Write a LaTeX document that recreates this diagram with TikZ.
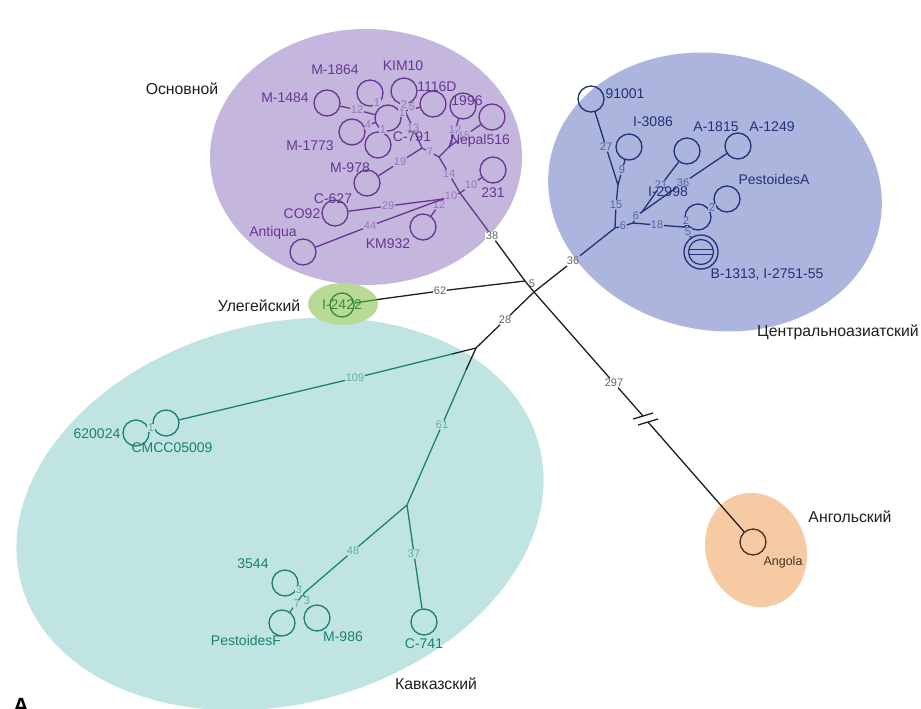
\documentclass[tikz,border=0pt]{standalone}
\usepackage{fontspec}
\setmainfont{Liberation Sans}
\definecolor{pbg}{RGB}{197,182,222}
\definecolor{pfg}{RGB}{104,54,146}
\definecolor{plb}{RGB}{150,120,190}
\definecolor{bbg}{RGB}{172,181,222}
\definecolor{bfg}{RGB}{38,48,118}
\definecolor{blb}{RGB}{85,98,165}
\definecolor{tbg}{RGB}{192,228,226}
\definecolor{tfg}{RGB}{28,128,116}
\definecolor{tlb}{RGB}{95,175,165}
\definecolor{gbg}{RGB}{184,218,150}
\definecolor{gfg}{RGB}{58,140,50}
\definecolor{obg}{RGB}{246,203,164}
\definecolor{ofg}{RGB}{70,50,35}
\definecolor{kfg}{RGB}{30,30,30}
\definecolor{klb}{RGB}{100,100,100}
\begin{document}
\begin{tikzpicture}[x=1pt,y=-1pt,
  lw/.style={line width=1.3pt},
  circ/.style={circle,draw,line width=1.3pt,minimum size=26pt,inner sep=0pt},
  nm/.style={font=\fontsize{14}{15}\selectfont,inner sep=0pt},
  el/.style={font=\fontsize{11}{12}\selectfont,inner sep=0.6pt},
  grp/.style={font=\fontsize{15.8}{17}\selectfont,inner sep=0pt,text=kfg},
  pline/.style={lw,draw=pfg}, pcirc/.style={circ,draw=pfg}, pname/.style={nm,text=pfg}, plab/.style={el,text=plb,fill=pbg},
  bline/.style={lw,draw=bfg}, bcirc/.style={circ,draw=bfg}, bname/.style={nm,text=bfg}, blab/.style={el,text=blb,fill=bbg},
  tline/.style={lw,draw=tfg}, tcirc/.style={circ,draw=tfg}, tname/.style={nm,text=tfg}, tlab/.style={el,text=tlb,fill=tbg},
  kline/.style={lw,draw=kfg}, klab/.style={el,text=klb,fill=white},
  gline/.style={lw,draw=gfg}
]
\fill[white] (0,0) rectangle (921,709);
\useasboundingbox (0,0) rectangle (921,709);

% background regions
\fill[pbg] (366,157) ellipse [x radius=156pt, y radius=128pt];
\fill[bbg, rotate around={-12:(715,192)}] (715,192) ellipse [x radius=168pt, y radius=138pt];
\fill[tbg, rotate around={15:(280,514)}] (280,514) ellipse [x radius=268pt, y radius=190pt];
\fill[gbg] (343,304) ellipse [x radius=35pt, y radius=21pt];
\fill[obg, rotate around={20:(756,550)}] (756,550) ellipse [x radius=50pt, y radius=58pt];

% junctions
\coordinate (J1) at (525,281);
\coordinate (J2) at (534,292);
\coordinate (pa) at (405,111);
\coordinate (pj) at (422,148);
\coordinate (pn2) at (439,157);
\coordinate (pn3) at (449,147);
\coordinate (pn4) at (460,193);
\coordinate (pn5) at (443,199);
\coordinate (bb0) at (615,228);
\coordinate (bb1) at (633,223);
\coordinate (bb2) at (618,185);
\coordinate (bb3) at (642,212);
\coordinate (bb4) at (684,227);
\coordinate (T0) at (476,348);
\coordinate (T1) at (407,505);
\coordinate (T2) at (303,594);
\coordinate (bk1) at (643,416);
\coordinate (bk2) at (648,422);
\coordinate (tx1) at (452,354);
\coordinate (tx2) at (466,370);
\coordinate (g36a) at (567,266);
\coordinate (g36b) at (580,255.7);

% purple circles
\node[pcirc] (m1484) at (327,103) {};
\node[pcirc] (m1864) at (370,93) {};
\node[pcirc] (kim10) at (404,91) {};
\node[pcirc] (c1116) at (433,104) {};
\node[pcirc] (c1996) at (463,106) {};
\node[pcirc] (nepal) at (492,117) {};
\node[pcirc] (pcen) at (388,118) {};
\node[pcirc] (m1773) at (352,132) {};
\node[pcirc] (plow) at (378,145) {};
\node[pcirc] (m978) at (367,183) {};
\node[pcirc] (c231) at (493,170) {};
\node[pcirc] (co92) at (335,213) {};
\node[pcirc] (km932) at (423,227) {};
\node[pcirc] (antiq) at (303,252) {};

% blue circles
\node[bcirc] (b91001) at (591,99) {};
\node[bcirc] (b3086) at (629,147) {};
\node[bcirc] (b1815) at (687,151) {};
\node[bcirc] (b1249) at (738,146) {};
\node[bcirc] (bpesta) at (727,199) {};
\node[bcirc] (blow) at (698,217) {};
\node[bcirc,minimum size=34pt] (btheta) at (701,252) {};
\draw[bfg,line width=1.2pt] (btheta.center) circle (12.5pt);
\draw[bfg,line width=1.2pt] (689,249.5) -- (713,249.5) (689,254.5) -- (713,254.5);

% teal circles
\node[tcirc] (cmcc) at (166,423) {};
\node[tcirc] (c620) at (136,433) {};
\node[tcirc] (c3544) at (285,583) {};
\node[tcirc] (m986) at (317,618) {};
\node[tcirc] (pestf) at (282,623) {};
\node[tcirc] (c741) at (424,622) {};

% others
\node[circ,draw=gfg,minimum size=24pt] (i2422) at (342,305) {};
\node[circ,draw=ofg] (angola) at (753,542) {};

% edge labels
\node[plab] (e1) at (357,110) {12};
\node[plab] (e2) at (377,103) {1};
\node[plab] (e3) at (368,125) {4};
\node[plab] (e4) at (383,130) {1};
\node[plab] (e5) at (402,113) {1};
\node[plab] (e6) at (404,105) {2};
\node[plab] (e7) at (412,107) {5};
\node[plab] (e8) at (413,128) {13};
\node[plab] (e9) at (430,152) {7};
\node[plab] (e10) at (400,162) {19};
\node[plab] (e11) at (455,130) {12};
\node[plab] (e12) at (464,136) {15};
\node[plab] (e13) at (449,174) {14};
\node[plab] (e14) at (471,185) {10};
\node[plab] (e15) at (451,196) {10};
\node[plab] (e16) at (439,205) {12};
\node[plab] (e17) at (388,206) {29};
\node[plab] (e18) at (370,226) {44};
\node[klab] (e19) at (492,236) {38};
\node[klab,fill=none] (e20) at (532,284) {5};
\node[klab] (e21) at (440,291) {62};
\node[klab,fill=none] (e22) at (573,261) {36};
\node[klab] (e23) at (505,320) {28};
\node[klab] (e24) at (614,383) {297};
\node[blab] (e25) at (606,147) {27};
\node[blab] (e26) at (622,170) {9};
\node[blab] (e27) at (616,205) {15};
\node[blab] (e28) at (623,226) {6};
\node[blab] (e29) at (636,216) {6};
\node[blab] (e30) at (661,185) {21};
\node[blab] (e31) at (683,183) {36};
\node[blab] (e32) at (657,225) {18};
\node[blab] (e33) at (686,221) {2};
\node[blab] (e34) at (688,232) {5};
\node[blab] (e35) at (712,208) {2};
\node[tlab] (e36) at (355,378) {109};
\node[tlab] (e37) at (151,428) {1};
\node[tlab] (e38) at (442,425) {61};
\node[tlab] (e39) at (353,551) {48};
\node[tlab] (e40) at (414,554) {37};
\node[tlab] (e41) at (299,590) {3};
\node[tlab] (e42) at (307,601) {3};
\node[tlab] (e43) at (297,604) {7};

% purple edges
\draw[pline] (m1484) -- (e1) -- (pcen);
\draw[pline] (m1864) -- (pcen);
\draw[pline] (m1773) -- (e3) -- (pcen);
\draw[pline] (plow) -- (pcen);
\draw[pline] (pcen) -- (pa) -- (kim10);
\draw[pline] (pa) -- (c1116);
\draw[pline] (pa) -- (e8) -- (pj);
\draw[pline] (m978) -- (e10) -- (pj);
\draw[pline] (pj) -- (e9) -- (pn2);
\draw[pline] (c1996) -- (e11) -- (pn3);
\draw[pline] (nepal) -- (e12) -- (pn3);
\draw[pline] (pn3) -- (pn2);
\draw[pline] (pn2) -- (e13) -- (pn4);
\draw[pline] (c231) -- (e14) -- (pn4);
\draw[pline] (pn5) -- (e15) -- (pn4);
\draw[pline] (co92) -- (e17) -- (pn5);
\draw[pline] (antiq) -- (e18) -- (pn5);
\draw[pline] (km932) -- (e16) -- (pn5);
\draw[pline] (pn4) -- (e19);
% black backbone
\draw[kline] (e19) -- (J1) -- (J2);
\draw[gline] (i2422) -- (377,299.6);
\draw[kline] (377,299.6) -- (e21) -- (J1);
\draw[kline] (J2) -- (g36a);
\draw[bline] (g36b) -- (bb0);
\draw[kline] (J2) -- (e23) -- (T0);
\draw[kline] (J2) -- (e24) -- (bk1);
\draw[kline] (bk2) -- (angola);
\draw[kline] (633,419) -- (653,413) (638,425) -- (658,419);
% blue edges
\draw[bline] (b91001) -- (e25) -- (bb2);
\draw[bline] (b3086) -- (e26) -- (bb2);
\draw[bline] (bb0) -- (e27) -- (bb2);
\draw[bline] (bb0) -- (e28) -- (bb1);
\draw[bline] (bb1) -- (e29) -- (bb3);
\draw[bline] (bb3) -- (e30) -- (b1815);
\draw[bline] (bb3) -- (e31) -- (b1249);
\draw[bline] (bb1) -- (e32) -- (bb4);
\draw[bline] (bb4) -- (blow);
\draw[bline] (bb4) -- (btheta);
\draw[bline] (blow) -- (bpesta);
% teal edges
\draw[kline] (T0) -- (tx1);
\draw[tline] (tx1) -- (e36) -- (cmcc);
\draw[tline] (c620) -- (cmcc);
\draw[kline] (T0) -- (tx2);
\draw[tline] (tx2) -- (e38) -- (T1);
\draw[tline] (T1) -- (e39) -- (T2);
\draw[tline] (T1) -- (e40) -- (c741);
\draw[tline] (T2) -- (c3544);
\draw[tline] (T2) -- (m986);
\draw[tline] (T2) -- (pestf);

% redraw labels on top of lines
\foreach \n/\t/\s in {e2/1/plab,e4/1/plab,e5/1/plab,e6/2/plab,e7/5/plab,e33/2/blab,e34/5/blab,e35/2/blab,e37/1/tlab,e41/3/tlab,e42/3/tlab,e43/7/tlab}
  \node[\s] at (\n) {\t};

% names
\node[pname] (n1) at (335,70) {M-1864};
\node[pname] (n2) at (403,66) {KIM10};
\node[pname] (n3) at (285,98) {M-1484};
\node[pname] (n4) at (437,87) {1116D};
\node[pname] (n5) at (467,101) {1996};
\node[pname] (n6) at (480,141) {Nepal516};
\node[pname] (n7) at (412,137) {C-791};
\node[pname] (n8) at (310,146) {M-1773};
\node[pname] (n9) at (350,168) {M-978};
\node[pname] (n10) at (493,193) {231};
\node[pname] (n11) at (333,199) {C-627};
\node[pname] (n12) at (302,214) {CO92};
\node[pname] (n13) at (388,244) {KM932};
\node[pname] (n14) at (273,233) {Antiqua};
\node[bname] (n15) at (625,94) {91001};
\node[bname] (n16) at (653,122) {I-3086};
\node[bname] (n17) at (716,127) {A-1815};
\node[bname] (n18) at (772,127) {A-1249};
\node[bname] (n19) at (668,192) {I-2998};
\node[bname] (n20) at (774,179) {PestoidesA};
\node[bname] (n21) at (767,275) {B-1313, I-2751-55};
\node[tname] (n22) at (97,434) {620024};
\node[tname] (n23) at (172,448) {CMCC05009};
\node[tname] (n24) at (253,564) {3544};
\node[tname] (n25) at (246,640) {PestoidesF};
\node[tname] (n26) at (343,637) {M-986};
\node[tname] (n27) at (424,644) {C-741};
\node[nm,text=gfg] (n28) at (342,305) {I-2422};
\node[nm,text=ofg,font=\fontsize{12.5}{14}\selectfont] (n29) at (783,562) {Angola};

% group names
\node[grp] (g1) at (182,89) {Основной};
\node[grp] (g2) at (259,306) {Улегейский};
\node[grp] (g3) at (838,332) {Центральноазиатский};
\node[grp] (g4) at (850,517) {Ангольский};
\node[grp] (g5) at (436,684) {Кавказский};
\node[font=\bfseries\fontsize{22}{24}\selectfont,inner sep=0pt,anchor=north,text=black] (gA) at (21,698) {A};
\end{tikzpicture}
\end{document}
